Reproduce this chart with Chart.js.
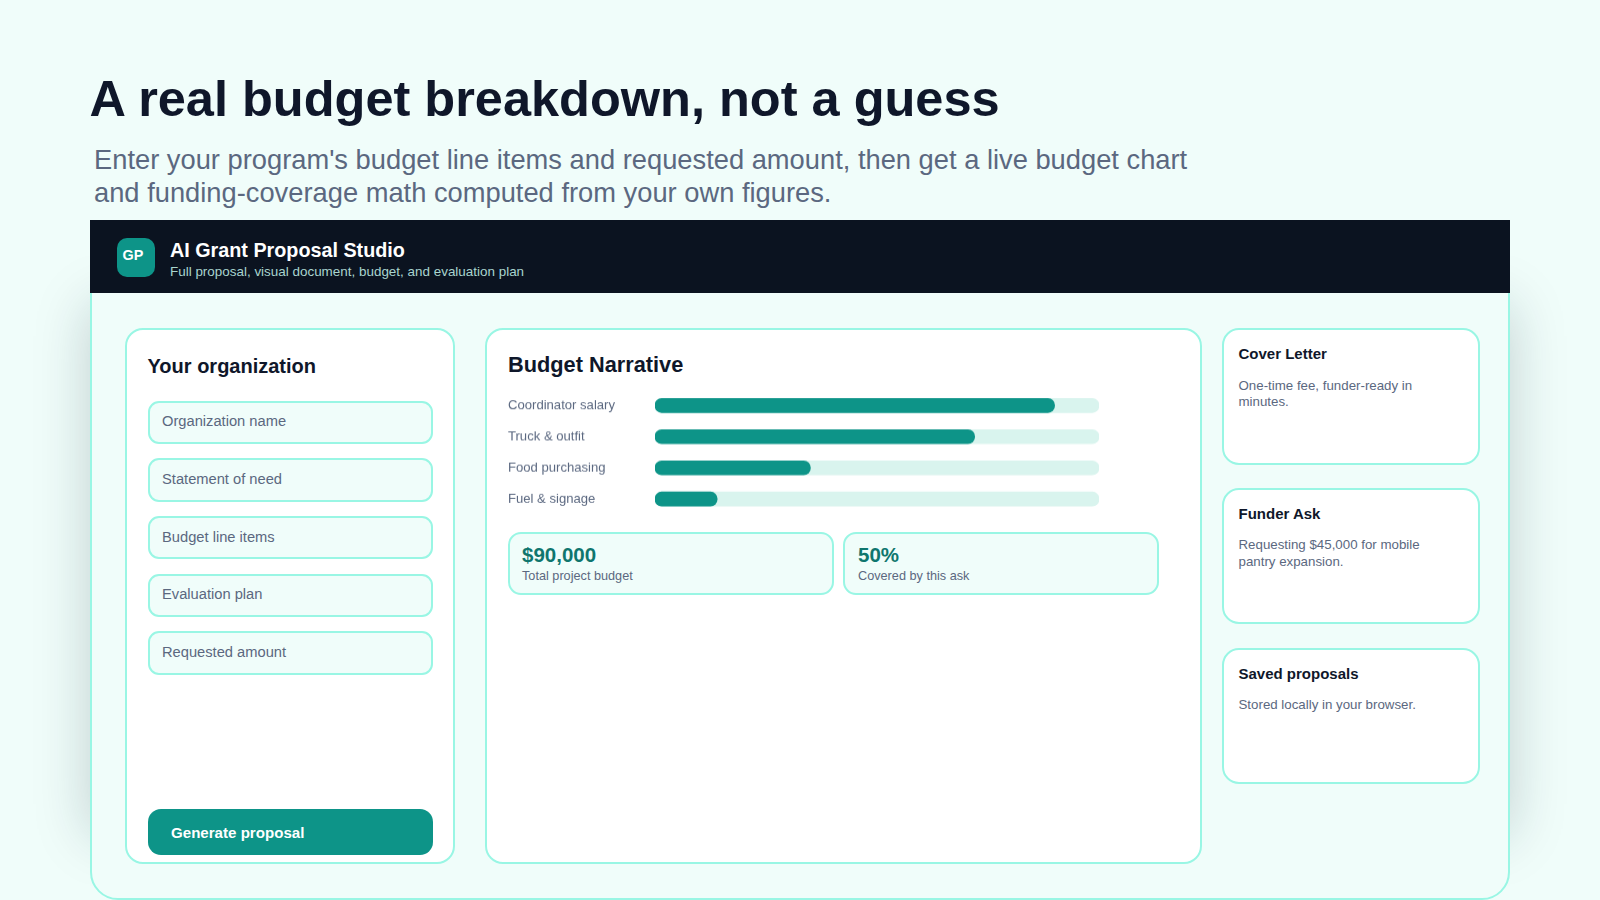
<!DOCTYPE html>
<html>
<head>
<meta charset="utf-8">
<title>Budget Narrative</title>
<script src="https://cdn.jsdelivr.net/npm/chart.js@4"></script>
<style>
html, body { margin: 0; padding: 0; width: 1600px; height: 900px; overflow: hidden; background: #f0fdfa; font-family: "Liberation Sans", Arial, sans-serif; color: #0f172a; }
.abs { position: absolute; white-space: nowrap; }
.box { position: absolute; box-sizing: border-box; border: 2px solid #99f6e4; background: #fff; }
#shadow { position: absolute; left: 90px; top: 305px; width: 1420px; height: 530px; box-shadow: 0 0 52px rgba(15, 40, 50, .21); }
#frame { left: 90px; top: 291px; width: 1420px; height: 609px; background: #f0fdfa; border-radius: 0 0 28px 28px; }
#header { position: absolute; left: 90px; top: 220px; width: 1420px; height: 73px; background: #0b1320; }
#logo { position: absolute; left: 117px; top: 238px; width: 38px; height: 39px; border-radius: 10px; background: #0d9488; }
.panel { border-radius: 18px; }
.field { left: 147.5px; width: 285px; height: 43.5px; border-radius: 11px; background: #f0fdfa; }
.fieldText { left: 162px; font-size: 14.7px; color: #5b6880; }
.card { left: 1222px; width: 258px; height: 136px; border-radius: 17px; }
.cardTitle { left: 1238.5px; font-size: 15px; font-weight: bold; }
.cardText { position: absolute; left: 1238.5px; width: 205px; font-size: 13.3px; line-height: 16.5px; color: #5b6880; }
.stat { top: 532px; height: 63px; border-radius: 13px; background: #f0fdfa; }
.statVal { font-size: 20.5px; font-weight: bold; color: #0f766e; top: 543px; }
.statLbl { font-size: 12.7px; color: #5b6880; top: 569px; }
#chartWrap { position: absolute; left: 508px; top: 382px; width: 591px; height: 139.5px; }
</style>
</head>
<body>
<div class="abs" style="left:89.5px;top:69px;font-size:50.5px;font-weight:bold;">A real budget breakdown, not a guess</div>
<div class="abs" style="left:94px;top:143px;font-size:27.3px;line-height:33px;color:#5b6880;">Enter your program's budget line items and requested amount, then get a live budget chart<br>and funding-coverage math computed from your own figures.</div>

<div id="shadow"></div>
<div class="box" id="frame"></div>
<div id="header"></div>
<div id="logo"></div>
<div class="abs" style="left:122.5px;top:247px;font-size:14.4px;font-weight:bold;color:#fff;">GP</div>
<div class="abs" style="left:170px;top:239px;font-size:19.75px;font-weight:bold;color:#fff;">AI Grant Proposal Studio</div>
<div class="abs" style="left:170px;top:264px;font-size:13.45px;color:#a9d5cf;">Full proposal, visual document, budget, and evaluation plan</div>

<div class="box panel" style="left:125px;top:328px;width:330px;height:536px;"></div>
<div class="abs" style="left:147.5px;top:355px;font-size:20px;font-weight:bold;">Your organization</div>
<div class="box field" style="top:400.7px;"></div><div class="abs fieldText" style="top:413px;">Organization name</div>
<div class="box field" style="top:458.3px;"></div><div class="abs fieldText" style="top:470.5px;">Statement of need</div>
<div class="box field" style="top:515.9px;"></div><div class="abs fieldText" style="top:528.5px;">Budget line items</div>
<div class="box field" style="top:573.5px;"></div><div class="abs fieldText" style="top:586px;">Evaluation plan</div>
<div class="box field" style="top:631.1px;"></div><div class="abs fieldText" style="top:643.5px;">Requested amount</div>
<div class="abs" style="left:148px;top:809px;width:285px;height:46px;border-radius:13px;background:#0d9488;"></div>
<div class="abs" style="left:171px;top:824px;font-size:15.1px;font-weight:bold;color:#fff;">Generate proposal</div>

<div class="box panel" style="left:485px;top:328px;width:717px;height:536px;"></div>
<div class="abs" style="left:508px;top:352px;font-size:21.75px;font-weight:bold;">Budget Narrative</div>
<div id="chartWrap"><canvas id="budgetChart"></canvas></div>
<div class="box stat" style="left:508px;width:326px;"></div>
<div class="abs statVal" style="left:522px;">$90,000</div>
<div class="abs statLbl" style="left:522px;">Total project budget</div>
<div class="box stat" style="left:843px;width:316px;"></div>
<div class="abs statVal" style="left:858px;">50%</div>
<div class="abs statLbl" style="left:858px;">Covered by this ask</div>

<div class="box card" style="top:328px;height:137px;"></div>
<div class="abs cardTitle" style="top:345px;">Cover Letter</div>
<div class="cardText" style="top:377.5px;">One-time fee, funder-ready in minutes.</div>
<div class="box card" style="top:488px;"></div>
<div class="abs cardTitle" style="top:504.5px;">Funder Ask</div>
<div class="cardText" style="top:537px;">Requesting $45,000 for mobile pantry expansion.</div>
<div class="box card" style="top:648px;"></div>
<div class="abs cardTitle" style="top:664.5px;">Saved proposals</div>
<div class="cardText" style="top:697px;">Stored locally in your browser.</div>

<script>
const categories = ['Coordinator salary', 'Truck & outfit', 'Food purchasing', 'Fuel & signage'];
const shareValues = [90, 72, 35, 14];
const trackValues = [100, 100, 100, 100];

new Chart(document.getElementById('budgetChart').getContext('2d'), {
    type: 'bar',
    data: {
        labels: categories,
        datasets: [
            { data: shareValues, backgroundColor: '#0d9488', borderRadius: 7, borderSkipped: false, barThickness: 14, grouped: false, order: 1 },
            { data: trackValues, backgroundColor: '#d9f4ee', borderRadius: 7, borderSkipped: false, barThickness: 14, grouped: false, order: 2 }
        ]
    },
    options: {
        indexAxis: 'y',
        responsive: true,
        maintainAspectRatio: false,
        animation: false,
        layout: { padding: 0 },
        plugins: { legend: { display: false }, tooltip: { enabled: false } },
        scales: {
            x: { display: false, min: 0, max: 100, grid: { display: false } },
            y: {
                afterFit: (axis) => { axis.width = 147; },
                border: { display: false },
                grid: { display: false, drawTicks: false },
                ticks: { crossAlign: 'far', padding: 0, color: '#5b6880', font: { family: '"Liberation Sans"', size: 13.1 } }
            }
        }
    }
});
</script>
</body>
</html>
